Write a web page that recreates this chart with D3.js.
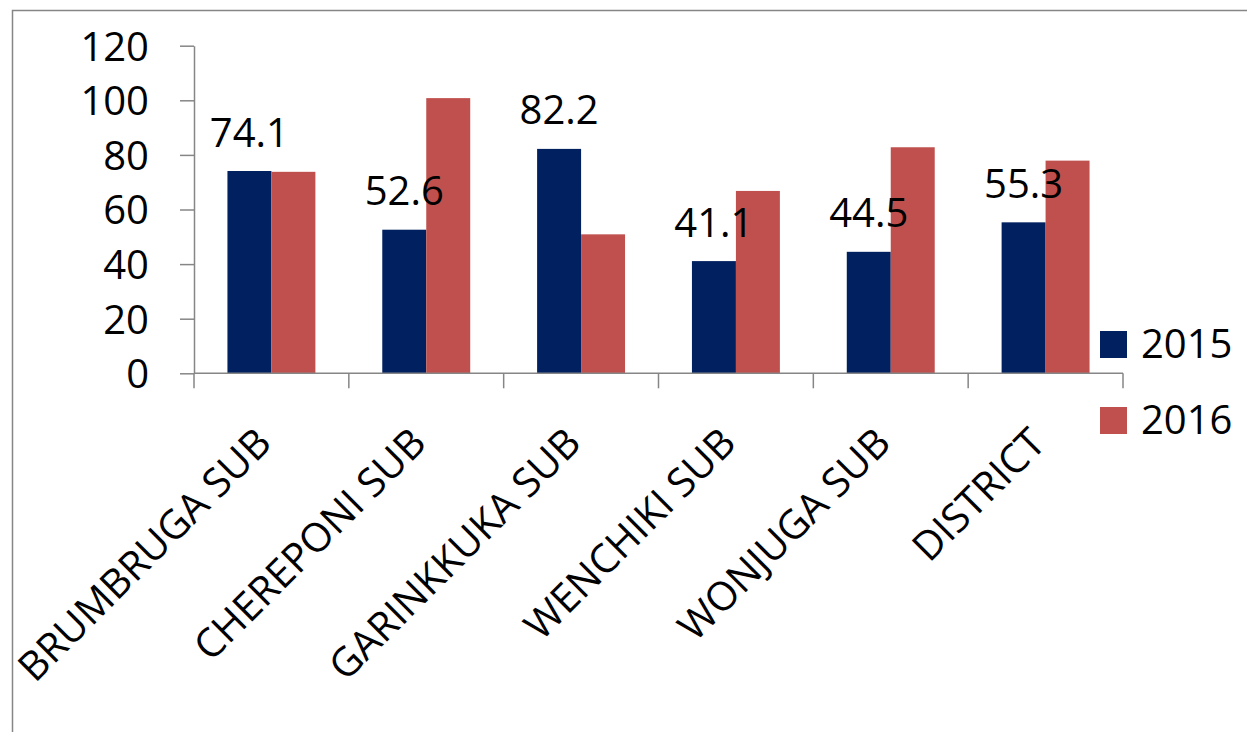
<!DOCTYPE html>
<html>
<head>
<meta charset="utf-8">
<script src="https://cdn.jsdelivr.net/npm/d3@7"></script>
<style>
  html, body { margin: 0; padding: 0; background: #fff; }
  svg { display: block; }
  text { font-family: "Open Sans", sans-serif; fill: #000; }
</style>
</head>
<body>
<svg id="chart" width="1247" height="732"></svg>
<script>
const categories = ["BRUMBRUGA SUB", "CHEREPONI SUB", "GARINKKUKA SUB", "WENCHIKI SUB", "WONJUGA SUB", "DISTRICT"];
const values2015 = [74.1, 52.6, 82.2, 41.1, 44.5, 55.3];
const values2016 = [73.8, 100.8, 50.9, 66.8, 82.8, 77.9];
const seriesNames = ["2015", "2016"];
const seriesColors = ["#002060", "#C0504D"];
const yTicks = [0, 20, 40, 60, 80, 100, 120];

(function () {
const svg = d3.select("#chart");
const axisColor = "#868686";

// outer chart border
svg.append("rect")
  .attr("x", 12.5).attr("y", 10.5)
  .attr("width", 1400).attr("height", 900)
  .attr("fill", "none").attr("stroke", axisColor).attr("stroke-width", 1.5);

const pLeft = 194, pRight = 1123, pTop = 45.7, pBottom = 373.3;

const y = d3.scaleLinear().domain([0, 120]).range([pBottom, pTop]);
const x0 = d3.scaleBand().domain(categories).range([pLeft, pRight])
  .paddingInner(0.432).paddingOuter(0.216);
const x1 = d3.scaleBand().domain(seriesNames).range([0, x0.bandwidth()]).padding(0);

const rows = categories.map((c, i) => ({ cat: c, vals: [values2015[i], values2016[i]] }));

// bars
const g = svg.append("g");
rows.forEach(r => {
  r.vals.forEach((v, j) => {
    g.append("rect")
      .attr("x", x0(r.cat) + x1(seriesNames[j]))
      .attr("y", y(v))
      .attr("width", x1.bandwidth())
      .attr("height", y(0) - y(v))
      .attr("fill", seriesColors[j]);
  });
});

// y axis
const yAxis = d3.axisLeft(y).tickValues(yTicks).tickSize(14).tickSizeOuter(0).tickPadding(31);
const ya = svg.append("g").attr("transform", `translate(${pLeft},0)`).call(yAxis);
ya.select(".domain").attr("stroke", axisColor).attr("stroke-width", 1.5);
ya.selectAll(".tick line").attr("stroke", axisColor).attr("stroke-width", 1.5);
ya.selectAll(".tick text").attr("font-size", 40).attr("fill", "#000")
  .attr("font-family", '"Open Sans", sans-serif').attr("dy", "0.36em");

// x axis line + ticks at category boundaries
const xa = svg.append("g");
xa.append("line").attr("x1", pLeft).attr("x2", pRight).attr("y1", pBottom).attr("y2", pBottom)
  .attr("stroke", axisColor).attr("stroke-width", 1.5);
const boundaries = d3.range(categories.length + 1).map(i => pLeft + i * x0.step());
xa.selectAll(".xt").data(boundaries).enter().append("line")
  .attr("x1", d => d).attr("x2", d => d)
  .attr("y1", pBottom).attr("y2", pBottom + 15)
  .attr("stroke", axisColor).attr("stroke-width", 1.5);

// category labels rotated -45
categories.forEach(c => {
  const cx = x0(c) + x0.bandwidth() / 2 + 2;
  svg.append("text")
    .attr("transform", `translate(${cx},${pBottom + 72}) rotate(-45)`)
    .attr("text-anchor", "end")
    .attr("font-size", 40)
    .text(c);
});

// data labels for 2015
rows.forEach(r => {
  const v = r.vals[0];
  svg.append("text")
    .attr("x", x0(r.cat) + x1(seriesNames[0]) + x1.bandwidth() / 2)
    .attr("y", y(v) - 24.5)
    .attr("text-anchor", "middle")
    .attr("font-size", 40)
    .text(v.toFixed(1));
});

// legend
const legendY = [331, 407];
seriesNames.forEach((s, j) => {
  svg.append("rect").attr("x", 1100).attr("y", legendY[j]).attr("width", 27).attr("height", 27)
    .attr("fill", seriesColors[j]);
  svg.append("text").attr("x", 1141).attr("y", legendY[j] + 27)
    .attr("font-size", 40).text(s);
});
})();
</script>
</body>
</html>
